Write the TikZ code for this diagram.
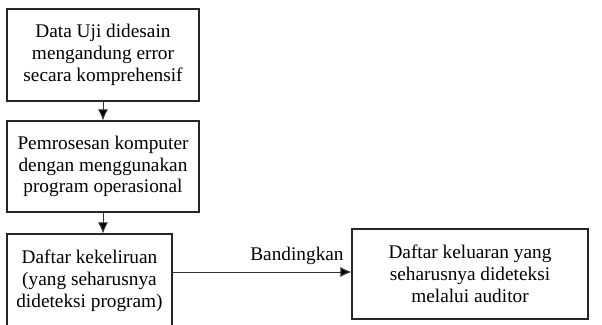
\documentclass[tikz,border=0pt]{standalone}
\usepackage{fontspec}
\setmainfont{Liberation Serif}
\usetikzlibrary{arrows.meta}
\begin{document}
\begin{tikzpicture}[x=1pt,y=-1pt,
  box/.style={draw=black!85,line width=1.1pt,align=center,inner sep=0pt,
    font=\fontsize{19.3}{21.8}\selectfont},
  conn/.style={draw=black!80,line width=1pt,-{Latex[length=11pt,width=10pt,fill=black]}},
  lbl/.style={font=\fontsize{19.3}{21.8}\selectfont,inner sep=0pt}]
\useasboundingbox (0,0) rectangle (602,324);
\clip (0,0) rectangle (602,324);
\fill[white] (0,0) rectangle (602,324);
\node[box,minimum width=192pt,minimum height=92pt] (b1) at (103,55)
  {Data Uji didesain\\mengandung error\\secara komprehensif};
\node[box,minimum width=192pt,minimum height=91pt] (b2) at (103,166.5)
  {Pemrosesan komputer\\dengan menggunakan\\program operasional};
\node[box,minimum width=165pt,minimum height=94pt] (b3) at (89.5,281)
  {Daftar kekeliruan\\(yang seharusnya\\dideteksi program)};
\node[box,minimum width=236pt,minimum height=90pt] (b4) at (470,274)
  {Daftar keluaran yang\\seharusnya dideteksi\\melalui auditor};
\draw[conn] (b1) -- (b2);
\draw[conn] (b2.south) -- (b2.south |- b3.north);
\draw[conn] (b3.east |- 0,272) -- (b4.west |- 0,272);
\node[lbl] (cmp) at (297,256) {Bandingkan};
\end{tikzpicture}
\end{document}
